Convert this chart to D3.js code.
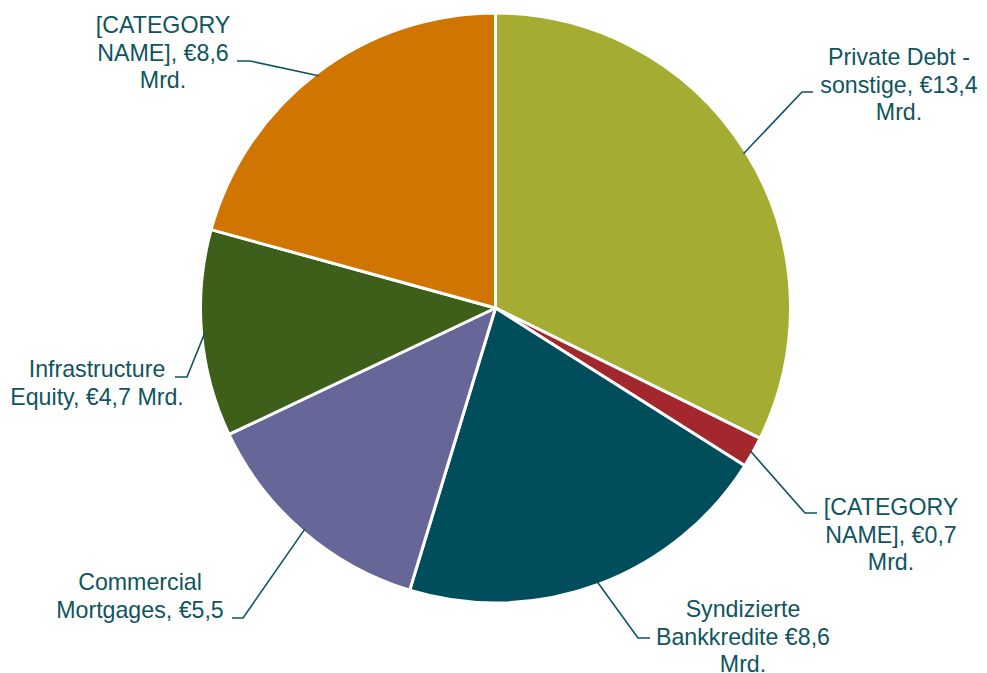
<!DOCTYPE html>
<html>
<head>
<meta charset="utf-8">
<script src="https://cdn.jsdelivr.net/npm/d3@7/dist/d3.min.js"></script>
<style>
html,body{margin:0;padding:0;background:#fff;}
svg{display:block;}
</style>
</head>
<body>
<svg id="chart" width="987" height="673"></svg>
<script>
// Data
const categories = ["Private Debt - sonstige", "[CATEGORY NAME]", "Syndizierte Bankkredite", "Commercial Mortgages", "Infrastructure Equity", "[CATEGORY NAME]"];
const values = [13.4, 0.7, 8.6, 5.5, 4.7, 8.6];
const labelLines = [
  ["Private Debt -", "sonstige, €13,4", "Mrd."],
  ["[CATEGORY", "NAME], €0,7", "Mrd."],
  ["Syndizierte", "Bankkredite €8,6", "Mrd."],
  ["Commercial", "Mortgages, €5,5"],
  ["Infrastructure", "Equity, €4,7 Mrd."],
  ["[CATEGORY", "NAME], €8,6", "Mrd."]
];
const colors = ["#A4AD32", "#A3282E", "#004E5B", "#676698", "#3D5F19", "#D07600"];

// Layout (label placement as in the reference)
const labelLayout = [
  {cx: 899, y0: 65,  elbow: [802, 92],  end: [813, 92]},
  {cx: 891, y0: 515, elbow: [805, 513], end: [817, 513]},
  {cx: 743, y0: 617, elbow: [638, 638], end: [650, 638]},
  {cx: 140, y0: 590, elbow: [243, 618], end: [232, 618]},
  {cx: 97,  y0: 377, elbow: [187, 377], end: [175, 377]},
  {cx: 163, y0: 33,  elbow: [250, 61],  end: [237, 61]}
];

const svg = d3.select("#chart");
const cx = 495.5, cy = 308, R = 295;
const textColor = "#0F5560";

const pie = d3.pie().sort(null).value(d => d)(values);
const arc = d3.arc().innerRadius(0).outerRadius(R);
const g = svg.append("g").attr("transform", `translate(${cx},${cy})`);

g.selectAll("path").data(pie).enter().append("path")
  .attr("d", arc)
  .attr("fill", (d, i) => colors[i])
  .attr("stroke", "#fff")
  .attr("stroke-width", 3)
  .attr("stroke-linejoin", "round");

// leader lines
pie.forEach((d, i) => {
  const mid = (d.startAngle + d.endAngle) / 2;
  const px = cx + (R - 3) * Math.sin(mid);
  const py = cy - (R - 3) * Math.cos(mid);
  const L = labelLayout[i];
  svg.append("polyline")
    .attr("points", [[px, py], L.elbow, L.end].map(p => p.join(",")).join(" "))
    .attr("fill", "none")
    .attr("stroke", textColor)
    .attr("stroke-width", 1.6);
});

// labels
labelLines.forEach((lines, i) => {
  const L = labelLayout[i];
  const t = svg.append("text")
    .attr("text-anchor", "middle")
    .attr("font-family", "'Liberation Sans', Arial, sans-serif")
    .attr("font-size", 23.2)
    .attr("fill", textColor);
  lines.forEach((ln, j) => {
    t.append("tspan").attr("x", L.cx).attr("y", L.y0 + j * 27.5).text(ln);
  });
});
</script>
</body>
</html>
